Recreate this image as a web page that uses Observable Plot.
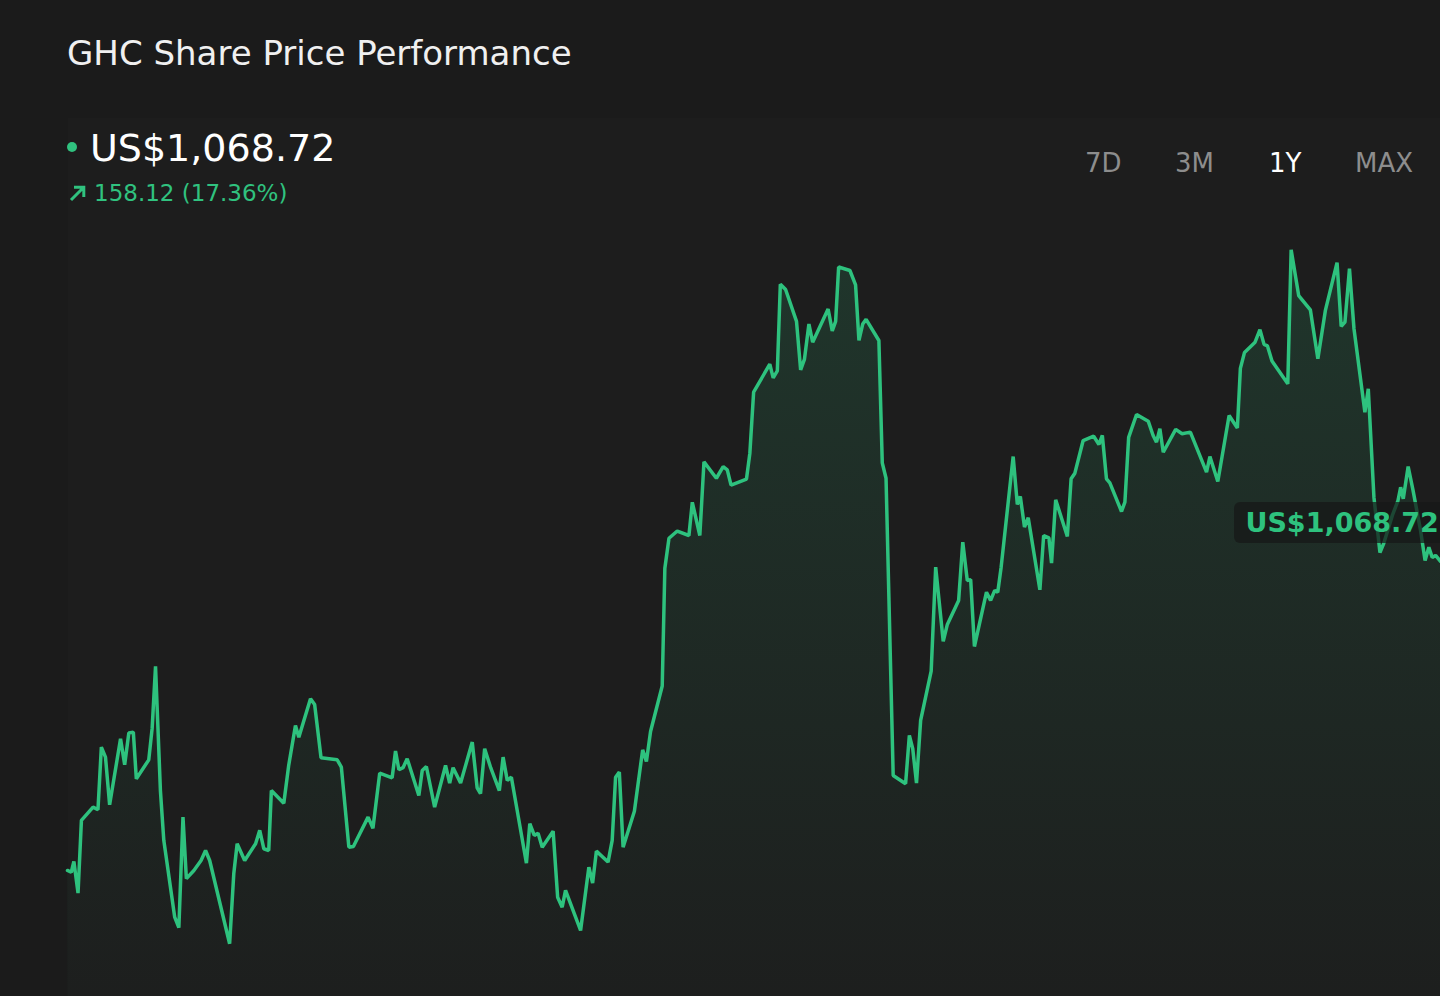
<!DOCTYPE html>
<html><head><meta charset="utf-8">
<script src="https://cdn.jsdelivr.net/npm/d3@7"></script>
<script src="https://cdn.jsdelivr.net/npm/@observablehq/plot@0.6"></script>
<style>
html,body{margin:0;padding:0;background:#1b1b1b;width:1440px;height:996px;overflow:hidden;font-family:"DejaVu Sans",sans-serif;}
.abs{position:absolute;white-space:nowrap;line-height:1;}
#title{left:67px;top:36px;font-size:34px;color:#f0f0f0;}
#price{left:90px;top:129px;font-size:38px;color:#ffffff;}
#dot{position:absolute;left:67px;top:142px;width:10px;height:10px;border-radius:50%;background:#2ec27e;}
#arrow{position:absolute;left:68px;top:183px;}
#change{left:94px;top:181.5px;font-size:23px;color:#2ec27e;}
.tab{top:150px;font-size:26px;color:#8c8c8c;}
.tab.active{color:#ffffff;}
#chart{position:absolute;left:0;top:117px;}
</style></head><body>
<div id="title" class="abs"></div>
<div id="dot"></div>
<div id="price" class="abs"></div>
<svg id="arrow" width="20" height="20" viewBox="0 0 20 20"><path d="M3 17 L15.5 4.5 M6 4.2 H15.8 V14" fill="none" stroke="#2ec27e" stroke-width="3" stroke-linecap="butt" stroke-linejoin="miter"/></svg>
<div id="change" class="abs"></div>
<div id="tabs"></div>
<div id="chart"></div>
<script>
const ticker = "GHC";
const lastPrice = 1068.72;
const change = 158.12;
const changePct = 17.36;
const ranges = ["7D", "3M", "1Y", "MAX"];
const activeRange = "1Y";

// trading-day offset within the 1-year window (0..365) and closing price (US$)
const days = [0,1.0,1.7,2.8,3.7,6.8,8.1,9.0,10.1,11.2,14.1,15.2,16.3,17.5,18.3,21.6,22.5,23.4,24.7,25.6,
28.5,29.6,30.7,31.6,33.6,35.5,36.7,37.8,43.1,44.2,45.1,47.1,50.0,51.1,52.2,53.5,54.2,57.5,58.8,60.6,
61.5,64.6,65.7,67.4,71.7,72.8,74.8,76.0,79.9,81.2,83.0,86.3,87.2,88.1,89.2,90.3,93.4,94.3,95.4,97.6,
100.5,101.6,102.5,104.5,107.6,108.9,109.8,110.9,112.5,114.8,115.8,116.9,118.0,122.0,122.9,124.1,125.1,126.2,129.1,130.3,
131.5,132.4,136.4,138.6,139.6,140.6,143.7,144.8,145.7,146.7,147.7,150.7,152.9,153.9,155.0,158.1,158.8,159.9,162.1,165.2,
166.1,168.1,169.2,172.5,174.3,175.4,176.4,180.5,181.4,182.4,186.7,187.6,188.7,189.5,190.9,193.8,194.9,195.9,197.1,198.1,
202.2,203.3,204.2,205.0,208.0,209.5,210.4,211.4,212.3,215.7,216.6,217.6,219.5,222.8,223.8,224.7,225.7,226.8,229.6,230.8,
232.8,233.9,236.9,238.0,239.2,240.1,241.1,244.3,245.4,246.5,247.3,248.2,251.4,252.5,253.3,254.4,255.4,258.5,259.5,260.9,
261.6,262.7,265.8,266.8,267.8,270.0,272.8,274.2,275.1,276.2,277.1,280.2,281.1,282.1,284.2,287.3,288.6,289.5,290.4,291.3,
294.6,296.3,298.5,302.8,303.7,305.8,308.8,311.0,311.8,312.9,315.7,317.0,318.1,319.0,320.2,324.4,325.3,327.3,330.4,332.4,
334.4,337.5,338.6,339.6,340.8,342.0,344.9,345.8,347.3,348.9,349.9,352.2,353.7,354.4,355.1,356.4,357.7,359.7,360.9,361.9,
362.8,363.7,365.0];
const prices = [910.6,909.7,915.2,899.0,936.2,943.0,941.7,973.7,968.6,944.2,978.0,964.7,980.9,981.4,957.5,967.2,983.3,1015.0,951.5,926.0,
886.7,881.3,937.9,906.4,910.6,915.7,920.8,915.7,873.1,908.9,924.3,915.7,924.3,931.1,921.7,920.8,951.5,945.0,964.3,984.8,
978.8,998.5,995.5,968.3,967.2,963.5,922.5,922.9,937.9,932.2,960.4,958.0,971.7,962.1,963.2,967.8,949.0,961.8,963.8,943.0,
964.3,955.3,963.2,955.3,976.3,952.9,949.9,972.9,963.2,951.5,968.6,956.7,958.3,914.3,934.5,928.5,929.7,922.5,930.7,896.9,
891.8,900.4,879.9,912.3,904.1,920.5,914.9,926.0,958.3,960.9,922.5,940.9,972.3,966.4,981.7,1005.0,1065.3,1080.6,1084.3,1082.0,
1099.0,1082.0,1119.7,1111.3,1117.2,1115.6,1107.8,1110.9,1124.1,1155.4,1169.7,1162.7,1166.2,1210.6,1207.9,1191.6,1166.8,1172.1,1190.2,1180.9,
1197.9,1186.7,1191.6,1219.4,1217.6,1210.3,1181.8,1190.2,1192.6,1181.8,1119.2,1111.3,959.2,955.0,979.7,972.9,955.3,987.4,1012.6,1065.8,
1027.9,1036.5,1048.8,1078.6,1059.0,1059.4,1025.2,1053.0,1048.8,1053.9,1053.0,1065.8,1122.4,1097.9,1102.0,1086.3,1091.1,1054.2,1082.0,1080.8,
1067.9,1100.3,1081.5,1111.0,1113.9,1130.6,1132.8,1128.6,1133.2,1111.0,1108.9,1094.3,1099.1,1132.2,1143.9,1140.5,1133.2,1129.8,1136.6,1124.6,
1136.3,1134.1,1134.9,1114.4,1122.4,1109.6,1143.4,1137.0,1167.5,1175.7,1180.9,1187.3,1179.8,1179.0,1171.3,1159.6,1228.2,1204.8,1197.5,1172.4,
1197.2,1221.6,1189.0,1191.2,1218.5,1187.8,1145.1,1157.1,1101.6,1073.3,1077.9,1092.3,1099.9,1106.7,1100.8,1117.3,1105.1,1084.6,1069.2,1076.0,
1070.8,1071.8,1068.72];

const green = "#2ec27e";
const fmtPrice = v => "US$" + d3.format(",.2f")(v);

document.getElementById("title").textContent = `${ticker} Share Price Performance`;
document.getElementById("price").textContent = fmtPrice(lastPrice);
document.getElementById("change").textContent = `${change.toFixed(2)} (${changePct.toFixed(2)}%)`;
const tabLeft = [1085, 1175, 1269, 1355];
const tabs = document.getElementById("tabs");
ranges.forEach((r, i) => {
  const el = document.createElement("div");
  el.className = "abs tab" + (r === activeRange ? " active" : "");
  el.style.left = tabLeft[i] + "px";
  el.textContent = r;
  tabs.appendChild(el);
});

const data = days.map((d, i) => ({day: d, price: prices[i]}));
const last = data[data.length - 1];
const yDomain = [846.1, 1295.9];

const chart = Plot.plot({
  width: 1440,
  height: 879,
  marginLeft: 67,
  marginRight: 0,
  marginTop: 0,
  marginBottom: 0,
  x: {domain: [0, 365], axis: null},
  y: {domain: yDomain, axis: null},
  style: {background: "transparent", overflow: "visible", fontFamily: "DejaVu Sans"},
  marks: [
    Plot.frame({fill: "#ffffff", fillOpacity: 0.01, stroke: null}),
    () => {
      const defs = d3.create("svg:defs");
      const g = defs.append("linearGradient").attr("id", "areaGrad")
        .attr("x1", 0).attr("y1", 0).attr("x2", 0).attr("y2", 1);
      g.append("stop").attr("offset", "0%").attr("stop-color", green).attr("stop-opacity", 0.15);
      g.append("stop").attr("offset", "100%").attr("stop-color", green).attr("stop-opacity", 0.01);
      return defs.node();
    },
    Plot.areaY(data, {x: "day", y1: yDomain[0], y2: "price", fill: "url(#areaGrad)"}),
    Plot.lineY(data, {x: "day", y: "price", stroke: green, strokeWidth: 3.5, strokeLinejoin: "miter"}),
    // dark rounded box behind the end-price label, placed via the scales
    (index, scales) => {
      const px = scales.x(last.day), py = scales.y(last.price);
      const r = d3.create("svg:rect")
        .attr("x", px - 206).attr("y", py - 59)
        .attr("width", 240).attr("height", 41).attr("rx", 6)
        .attr("fill", "rgba(22,24,23,0.72)");
      return r.node();
    },
    Plot.text([last], {
      x: "day", y: "price", text: d => fmtPrice(d.price),
      textAnchor: "start", dx: -195, dy: -38,
      fill: green, fontSize: 27, fontWeight: "bold", fontFamily: "DejaVu Sans"
    })
  ]
});
document.getElementById("chart").appendChild(chart);
</script>
</body></html>
